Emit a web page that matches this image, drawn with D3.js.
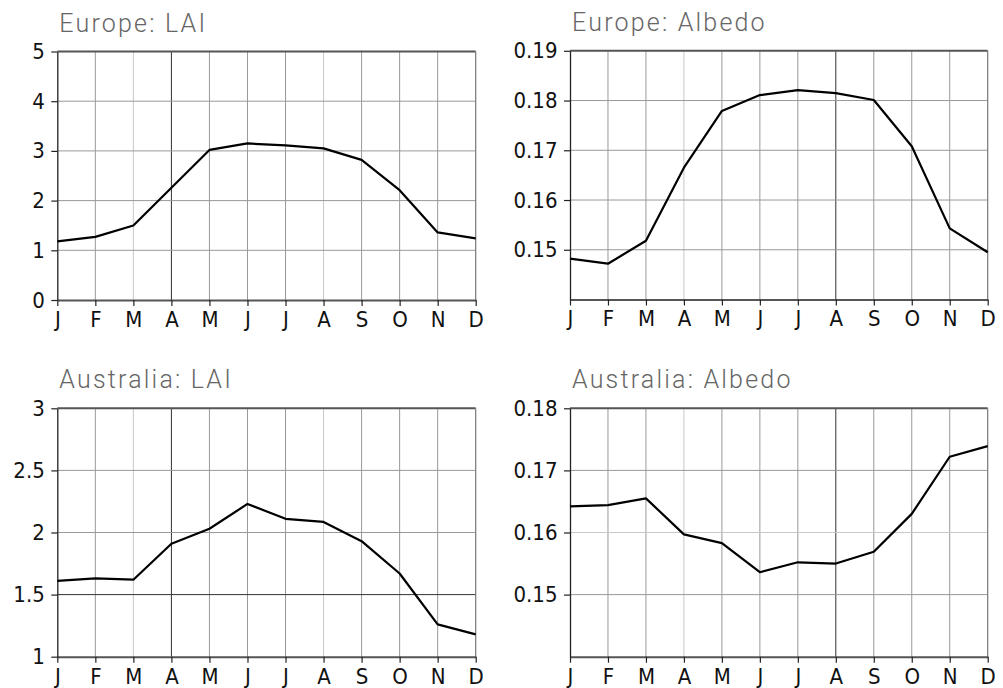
<!DOCTYPE html>
<html>
<head>
<meta charset="utf-8">
<title>LAI and albedo</title>
<script src="https://cdn.jsdelivr.net/npm/d3@7"></script>
<style>
  body { margin: 0; background: #fff; }
  svg { display: block; }
  .tick text { font-family: "DejaVu Sans Condensed", "DejaVu Sans", sans-serif; fill: #111; }
  .title { font-family: Roboto, "DejaVu Sans", sans-serif; font-weight: 300; fill: #666; letter-spacing: 2.2px; }
</style>
</head>
<body>
<script>
// data
var months = ["J", "F", "M", "A", "M", "J", "J", "A", "S", "O", "N", "D"];
var europeLai = [1.18, 1.27, 1.50, 2.26, 3.02, 3.15, 3.11, 3.05, 2.82, 2.21, 1.36, 1.24];
var europeAlbedo = [0.1482, 0.1472, 0.1518, 0.1665, 0.1779, 0.1811, 0.1821, 0.1815, 0.1801, 0.1708, 0.1543, 0.1495];
var australiaLai = [1.61, 1.63, 1.62, 1.91, 2.03, 2.23, 2.11, 2.085, 1.93, 1.67, 1.26, 1.18];
var australiaAlbedo = [0.1642, 0.1644, 0.1655, 0.1597, 0.1583, 0.1536, 0.1552, 0.1550, 0.1569, 0.1630, 0.1722, 0.1739];
var laiEuropeTicks = [0, 1, 2, 3, 4, 5];
var laiAustraliaTicks = [1, 1.5, 2, 2.5, 3];
var albedoEuropeTicks = [0.15, 0.16, 0.17, 0.18, 0.19];
var albedoAustraliaTicks = [0.15, 0.16, 0.17, 0.18];

var panels = [
  { title: "Europe: LAI", values: europeLai, domain: [0, 5], ticks: laiEuropeTicks, fmt: d3.format("d"),
    x0: 57.3, x1: 475.7, y0: 300, y1: 51.5, darkX: [3], lightX: [2, 7], darkY: [], lightY: [] },
  { title: "Europe: Albedo", values: europeAlbedo, domain: [0.14, 0.19], ticks: albedoEuropeTicks, fmt: d3.format(".2f"),
    x0: 570, x1: 987.7, y0: 299.5, y1: 50.8, darkX: [7], lightX: [3], darkY: [], lightY: [] },
  { title: "Australia: LAI", values: australiaLai, domain: [1, 3], ticks: laiAustraliaTicks, fmt: d => d3.format("~g")(d),
    x0: 57.3, x1: 475.7, y0: 656.7, y1: 408.3, darkX: [3], lightX: [2, 7], darkY: [1.5], lightY: [] },
  { title: "Australia: Albedo", values: australiaAlbedo, domain: [0.14, 0.18], ticks: albedoAustraliaTicks, fmt: d3.format(".2f"),
    x0: 570, x1: 987.7, y0: 656.7, y1: 408.3, darkX: [7], lightX: [3], darkY: [], lightY: [0.16] }
];

var svg = d3.select("body").append("svg")
  .attr("width", 1003)
  .attr("height", 688);

panels.forEach(function (p) {
  var x = d3.scaleLinear().domain([0, 11]).range([p.x0, p.x1]);
  var y = d3.scaleLinear().domain(p.domain).range([p.y0, p.y1]);
  var g = svg.append("g");

  var gridColor = function (dark, light) { return dark ? "#333" : (light ? "#c8c8c8" : "#999"); };

  // vertical grid
  g.append("g").selectAll("line")
    .data(d3.range(1, 11))
    .join("line")
    .attr("x1", d => x(d)).attr("x2", d => x(d))
    .attr("y1", p.y0).attr("y2", p.y1)
    .attr("stroke", d => gridColor(p.darkX.includes(d), p.lightX.includes(d)))
    .attr("stroke-width", 1);

  // horizontal grid
  g.append("g").selectAll("line")
    .data(p.ticks.filter(t => t > p.domain[0] && t < p.domain[1]))
    .join("line")
    .attr("x1", p.x0).attr("x2", p.x1)
    .attr("y1", d => y(d)).attr("y2", d => y(d))
    .attr("stroke", d => gridColor(p.darkY.includes(d), p.lightY.includes(d)))
    .attr("stroke-width", 1);

  // frame
  g.append("line").attr("x1", p.x0).attr("x2", p.x1).attr("y1", p.y1).attr("y2", p.y1)
    .attr("stroke", "#555").attr("stroke-width", 2);
  g.append("line").attr("x1", p.x1).attr("x2", p.x1).attr("y1", p.y0).attr("y2", p.y1)
    .attr("stroke", "#777").attr("stroke-width", 1.2);

  // axes
  var xAxis = g.append("g")
    .attr("transform", `translate(0,${p.y0})`)
    .call(d3.axisBottom(x).tickValues(d3.range(12)).tickFormat(i => months[i]).tickSize(6).tickSizeOuter(0));
  xAxis.select(".domain").attr("stroke", "#555").attr("stroke-width", 2);
  xAxis.selectAll(".tick line").attr("stroke", "#222").attr("stroke-width", 1.2);
  xAxis.selectAll(".tick text").attr("font-size", 22).attr("dy", "0.95em").attr("y", 6);

  var yAxis = g.append("g")
    .attr("transform", `translate(${p.x0},0)`)
    .call(d3.axisLeft(y).tickValues(p.ticks).tickFormat(p.fmt).tickSize(6).tickSizeOuter(0));
  yAxis.select(".domain").attr("stroke", "#222").attr("stroke-width", 1.3);
  yAxis.selectAll(".tick line").attr("stroke", "#222").attr("stroke-width", 1.2);
  yAxis.selectAll(".tick text").attr("font-size", 22).attr("x", -12.5);

  // series line
  g.append("path")
    .datum(p.values)
    .attr("fill", "none")
    .attr("stroke", "#000")
    .attr("stroke-width", 2.2)
    .attr("stroke-linejoin", "round")
    .attr("d", d3.line().x((d, i) => x(i)).y(d => y(d)));

  // title
  g.append("text")
    .attr("class", "title")
    .attr("x", p.x0 + 2)
    .attr("y", p.y1 - 20)
    .attr("font-size", 25)
    .text(p.title);
});
</script>
</body>
</html>
